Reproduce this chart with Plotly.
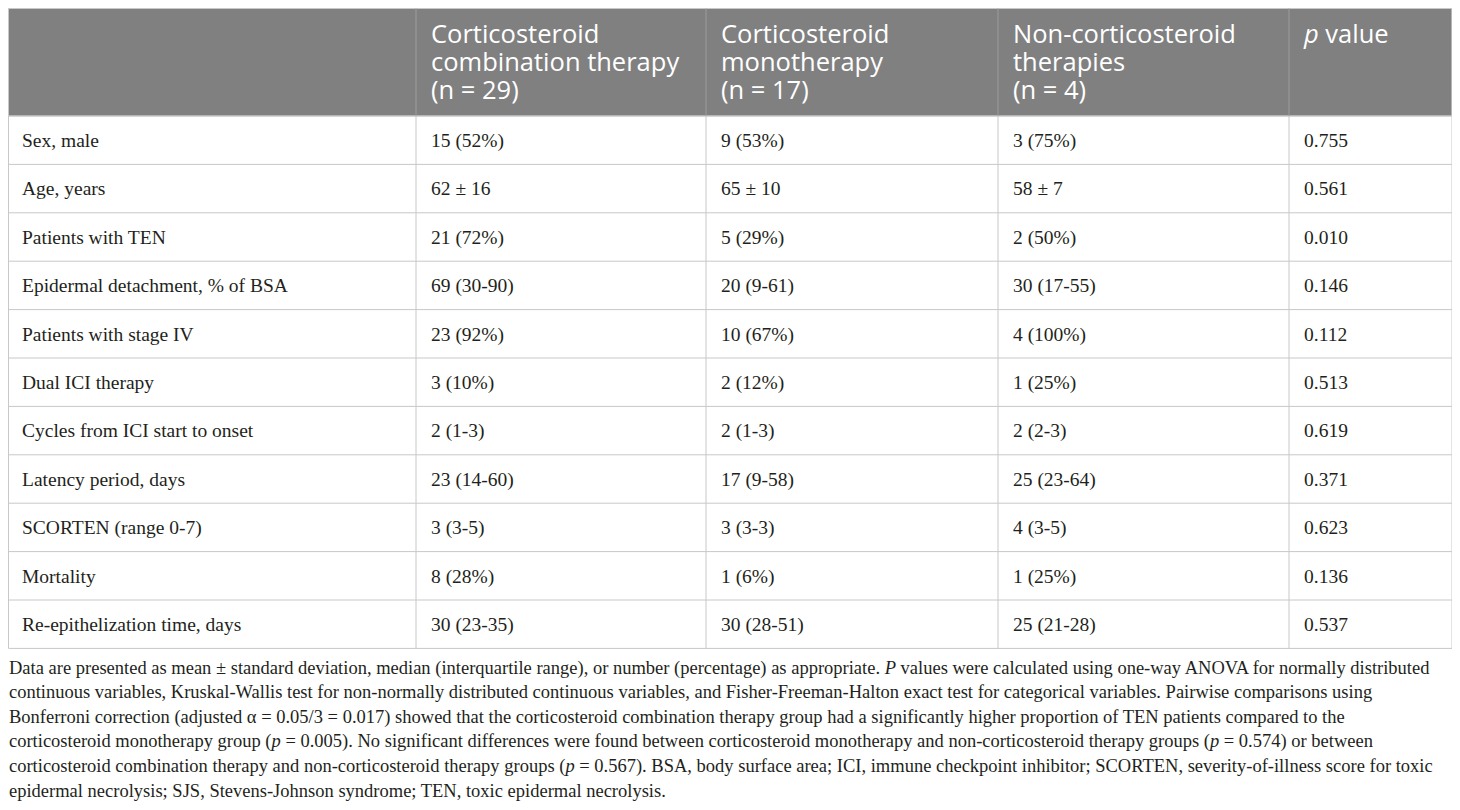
import plotly.graph_objects as go

# table content
header_lines = [
    [""],
    ["Corticosteroid", "combination therapy", "(n = 29)"],
    ["Corticosteroid", "monotherapy", "(n = 17)"],
    ["Non-corticosteroid", "therapies", "(n = 4)"],
    ["<i>p</i> value"],
]
variables = [
    "Sex, male", "Age, years", "Patients with TEN", "Epidermal detachment, % of BSA",
    "Patients with stage IV", "Dual ICI therapy", "Cycles from ICI start to onset",
    "Latency period, days", "SCORTEN (range 0-7)", "Mortality", "Re-epithelization time, days",
]
combination = ["15 (52%)", "62 ± 16", "21 (72%)", "69 (30-90)", "23 (92%)", "3 (10%)",
               "2 (1-3)", "23 (14-60)", "3 (3-5)", "8 (28%)", "30 (23-35)"]
monotherapy = ["9 (53%)", "65 ± 10", "5 (29%)", "20 (9-61)", "10 (67%)", "2 (12%)",
               "2 (1-3)", "17 (9-58)", "3 (3-3)", "1 (6%)", "30 (28-51)"]
non_cortico = ["3 (75%)", "58 ± 7", "2 (50%)", "30 (17-55)", "4 (100%)", "1 (25%)",
               "2 (2-3)", "25 (23-64)", "4 (3-5)", "1 (25%)", "25 (21-28)"]
p_values = ["0.755", "0.561", "0.010", "0.146", "0.112", "0.513",
            "0.619", "0.371", "0.623", "0.136", "0.537"]

footnote = [
    "Data are presented as mean ± standard deviation, median (interquartile range), or number (percentage) as appropriate. <i>P</i> values were calculated using one-way ANOVA for normally distributed",
    "continuous variables, Kruskal-Wallis test for non-normally distributed continuous variables, and Fisher-Freeman-Halton exact test for categorical variables. Pairwise comparisons using",
    "Bonferroni correction (adjusted α = 0.05/3 = 0.017) showed that the corticosteroid combination therapy group had a significantly higher proportion of TEN patients compared to the",
    "corticosteroid monotherapy group (<i>p</i> = 0.005). No significant differences were found between corticosteroid monotherapy and non-corticosteroid therapy groups (<i>p</i> = 0.574) or between",
    "corticosteroid combination therapy and non-corticosteroid therapy groups (<i>p</i> = 0.567). BSA, body surface area; ICI, immune checkpoint inhibitor; SCORTEN, severity-of-illness score for toxic",
    "epidermal necrolysis; SJS, Stevens-Johnson syndrome; TEN, toxic epidermal necrolysis.",
]

columns = [variables, combination, monotherapy, non_cortico, p_values]

# geometry in page pixels; the page body has an 8px margin, so the
# figure is 8px smaller and the axes start at 8
W, H = 1460, 810
body_margin = 8
col_edges = [8.5, 416, 706, 998, 1289, 1452]
text_x = [22, 431, 721, 1013, 1304]
top = 8.5
header_h = 107.5
row_h = 48.4
head_line = 28.3
foot_x = 9
foot_top = 669
foot_line = 24.6

grid = "#c8c8c8"
body_font = dict(family="Liberation Serif", size=19.5, color="#231f20")

n_rows = len(variables)
body_top = top + header_h
bottom = body_top + n_rows * row_h

fig = go.Figure()

# header band
fig.add_shape(type="rect", x0=col_edges[0], x1=col_edges[-1], y0=top, y1=body_top,
              fillcolor="#808080", line=dict(color=grid, width=1), layer="below")

# horizontal rules
for i in range(n_rows + 1):
    y = body_top + i * row_h
    fig.add_shape(type="line", x0=col_edges[0], x1=col_edges[-1], y0=y, y1=y,
                  line=dict(color=grid, width=1))

# vertical rules
for j, x in enumerate(col_edges):
    outer = j in (0, len(col_edges) - 1)
    fig.add_shape(type="line", x0=x, x1=x, y0=body_top, y1=bottom,
                  line=dict(color=grid, width=1))
    fig.add_shape(type="line", x0=x, x1=x, y0=top, y1=body_top,
                  line=dict(color=grid if outer else "#9c9c9c", width=1))

# header text, one line per text point (tight leading like the source)
for j, lines in enumerate(header_lines):
    fig.add_trace(go.Scatter(
        x=[text_x[j]] * len(lines),
        y=[top + 28 + k * head_line for k in range(len(lines))],
        text=lines, mode="text", textposition="middle right",
        textfont=dict(family="Open Sans", size=25.5, color="white"),
        hoverinfo="skip", cliponaxis=False,
    ))

# body text
for j, col in enumerate(columns):
    fig.add_trace(go.Scatter(
        x=[text_x[j]] * n_rows,
        y=[body_top + (i + 0.5) * row_h + 2 for i in range(n_rows)],
        text=col, mode="text", textposition="middle right",
        textfont=body_font, hoverinfo="skip", cliponaxis=False,
    ))

# footnote
fig.add_trace(go.Scatter(
    x=[foot_x] * len(footnote),
    y=[foot_top + k * foot_line for k in range(len(footnote))],
    text=footnote, mode="text", textposition="middle right",
    textfont=dict(family="Liberation Serif", size=18.5, color="#231f20"),
    hoverinfo="skip", cliponaxis=False,
))

fig.update_xaxes(range=[body_margin, W], visible=False, fixedrange=True)
fig.update_yaxes(range=[H, body_margin], visible=False, fixedrange=True)
fig.update_layout(
    width=W - body_margin, height=H - body_margin,
    margin=dict(l=0, r=0, t=0, b=0),
    paper_bgcolor="white", plot_bgcolor="white",
    showlegend=False,
)

fig.write_html("out.html")
